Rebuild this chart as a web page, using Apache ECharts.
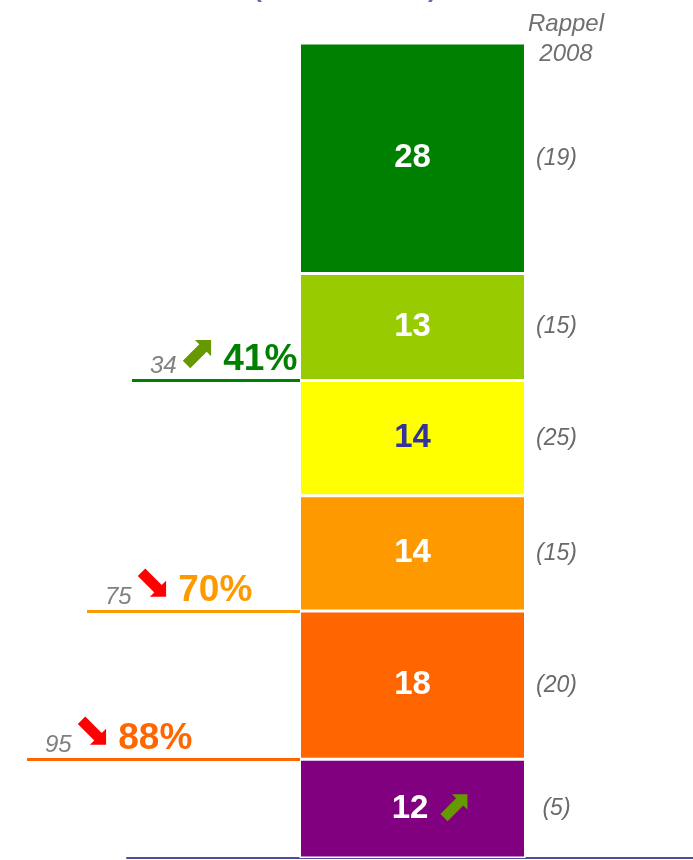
<!DOCTYPE html>
<html>
<head>
<meta charset="utf-8">
<script src="https://cdn.jsdelivr.net/npm/echarts@6/dist/echarts.min.js"></script>
<style>
html, body { margin: 0; padding: 0; background: #fff; }
#chart { width: 693px; height: 860px; }
</style>
</head>
<body>
<div id="chart"></div>
<script>
// données (du bas vers le haut)
const categories = ["2009"];
const segmentNames = ["violet", "orange foncé", "orange", "jaune", "vert clair", "vert"];
const values = [12, 18, 14, 14, 13, 28];
const previous = [5, 20, 15, 25, 15, 19]; // rappel 2008
const segmentTrend = ["up", null, null, null, null, null];

// seuils : nombre de segments sous la ligne
const thresholdAfter = [1, 2, 4];
const thresholdRef = [95, 75, 34];
const thresholdPct = ["88%", "70%", "41%"];
const thresholdTrend = ["down", "down", "up"];

const colors = ["#800080", "#ff6600", "#ff9900", "#ffff00", "#99cc00", "#008000"];
const labelColors = ["#fff", "#fff", "#fff", "#333399", "#fff", "#fff"];
const lineColors = ["#ff6600", "#ff9900", "#008000"];
const lineStartX = [27, 87, 132];
const barLeftX = 300;

const font = "Liberation Sans";
const arrows = { up: "⬈", down: "⬊" };
const arrowColors = { up: "#669900", down: "#ff0000" };

let myChart = echarts.init(document.getElementById("chart"));

function sumFirst(n) {
  let s = 0;
  for (let i = 0; i < n; i++) s += values[i];
  return s;
}

const total = sumFirst(values.length);

const lineData = thresholdAfter.map((n, k) => {
  const level = sumFirst(n);
  return [
    {
      xAxis: 0,
      yAxis: level,
      x: lineStartX[k],
      lineStyle: { color: lineColors[k], width: 3, type: "solid" },
      label: {
        show: true,
        position: "insideStartTop",
        distance: [18, 2],
        formatter: "{n|" + thresholdRef[k] + "}{a|" + arrows[thresholdTrend[k]] + "}{p|" + thresholdPct[k] + "}",
        rich: {
          n: { fontFamily: font, fontSize: 24, fontStyle: "italic", color: "#808080", verticalAlign: "bottom" },
          a: { fontFamily: "DejaVu Sans", fontSize: 46, lineHeight: 40, color: arrowColors[thresholdTrend[k]], padding: [0, 6, 0, 2], verticalAlign: "bottom" },
          p: { fontFamily: font, fontSize: 37, fontWeight: "bold", color: lineColors[k], verticalAlign: "bottom" }
        }
      }
    },
    { xAxis: 0, yAxis: level, x: barLeftX }
  ];
});

const mainSeries = values.map((v, i) => {
  let fmt = "{v|" + v + "}";
  if (segmentTrend[i]) {
    fmt = "{s|}{v|" + v + "}{g|}{a|" + arrows[segmentTrend[i]] + "}";
  }
  return {
    name: segmentNames[i],
    type: "bar",
    stack: "now",
    barWidth: 226,
    barGap: "-100%",
    clip: false,
    data: [v],
    itemStyle: { color: colors[i], borderColor: "#fff", borderWidth: 1.5 },
    label: {
      show: true,
      position: "inside",
      formatter: fmt,
      rich: {
        v: { fontFamily: font, fontSize: 33, fontWeight: "bold", color: labelColors[i] },
        s: { width: 40 },
        g: { width: 8 },
        a: { fontFamily: "DejaVu Sans", fontSize: 44, color: arrowColors.up }
      }
    },
    markLine: i === 0 ? { symbol: "none", silent: true, animation: false, data: lineData } : undefined
  };
});

const prevSeries = previous.map((p, i) => ({
  name: segmentNames[i] + " 2008",
  type: "bar",
  stack: "prev",
  barWidth: 226,
  barGap: "-100%",
  silent: true,
  data: [values[i]],
  itemStyle: { color: "rgba(0,0,0,0)" },
  label: {
    show: true,
    position: [257, "50%"],
    align: "center",
    verticalAlign: "middle",
    formatter: "(" + p + ")",
    fontFamily: font,
    fontSize: 23,
    fontStyle: "italic",
    color: "#6a6a6a"
  }
}));

myChart.setOption({
  animation: false,
  title: [
    {
      text: "{p|(}{s|}{p|)}",
      left: 340,
      top: -28,
      textAlign: "center",
      textStyle: {
        rich: {
          p: { fontFamily: font, fontSize: 26, color: "#6a6ab8" },
          s: { width: 166 }
        }
      }
    },
    {
      text: "Rappel\n2008",
      left: 561,
      top: 4,
      textAlign: "center",
      textStyle: {
        fontFamily: font,
        fontSize: 24,
        fontStyle: "italic",
        fontWeight: "normal",
        color: "#707070",
        lineHeight: 30
      }
    }
  ],
  grid: { left: 127, width: 571, top: 43, bottom: 2, outerBoundsMode: "none", containLabel: false },
  xAxis: {
    type: "category",
    data: categories,
    axisLine: { show: true, lineStyle: { color: "#4d4d9e", width: 2 } },
    axisTick: { show: false },
    axisLabel: { show: false }
  },
  yAxis: {
    type: "value",
    min: 0,
    max: total,
    show: false,
    splitLine: { show: false }
  },
  series: mainSeries.concat(prevSeries)
});
</script>
</body>
</html>
